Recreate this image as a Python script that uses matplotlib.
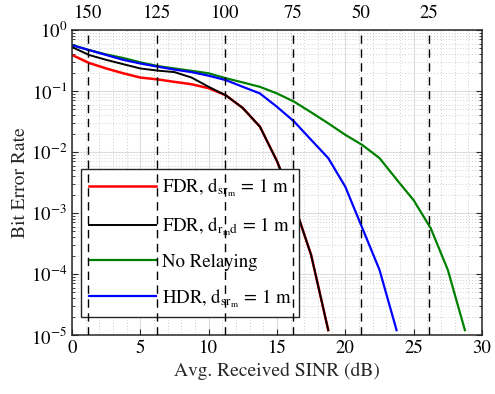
import matplotlib
matplotlib.use("Agg")
import matplotlib.pyplot as plt
from matplotlib.ticker import LogLocator, MultipleLocator, NullFormatter, LogFormatterMathtext

plt.rcParams['font.family'] = ['STIXGeneral', 'DejaVu Serif']
plt.rcParams['mathtext.fontset'] = 'stix'

# ---- data ----
snr = [0, 1.25, 2.5, 3.75, 5, 6.25, 7.5, 8.75, 10, 11.25, 12.5, 13.75, 15, 16.25,
       17.5, 18.75, 20, 21.25, 22.5, 23.75, 25, 26.25, 27.5, 28.75]

ber_fdr_sr = [0.389, 0.288, 0.234, 0.195, 0.166, 0.155, 0.141, 0.129, 0.111, 0.0851,
              0.0525, 0.026, 0.00708, 0.00141, 0.000204, 1.2e-5]
ber_fdr_rd = [0.525, 0.389, 0.324, 0.275, 0.234, 0.216, 0.204, 0.166, 0.117, 0.0851,
              0.0525, 0.026, 0.00708, 0.00141, 0.000204, 1.2e-5]
ber_norelay = [0.568, 0.468, 0.398, 0.347, 0.295, 0.257, 0.234, 0.214, 0.195, 0.162,
               0.138, 0.117, 0.0912, 0.0668, 0.0447, 0.0295, 0.0191, 0.0130, 0.00794,
               0.00355, 0.00162, 0.000562, 0.000117, 1.2e-5]
ber_hdr_sr = [0.562, 0.468, 0.389, 0.324, 0.282, 0.251, 0.224, 0.204, 0.178, 0.151,
              0.117, 0.0912, 0.055, 0.0316, 0.0158, 0.00794, 0.00269, 0.000562,
              0.000117, 1.2e-5]

labels = [r'FDR, d$_{\mathrm{sr}_{\mathrm{m}}}$ = 1 m',
          r'FDR, d$_{\mathrm{r}_{\mathrm{m}}\mathrm{d}}$ = 1 m',
          'No Relaying',
          r'HDR, d$_{\mathrm{sr}_{\mathrm{m}}}$ = 1 m']

dist_pos = [1.2, 6.2, 11.2, 16.2, 21.15, 26.15]
dist_labels = ['150', '125', '100', '75', '50', '25']

# ---- figure ----
fig = plt.figure(figsize=(4.95, 3.94), dpi=100)
ax = fig.add_axes([0.1455, 0.1497, 0.8282, 0.7742])

ax.plot(snr[:len(ber_fdr_sr)], ber_fdr_sr, color='#ff0000', lw=1.8, label=labels[0])
ax.plot(snr[:len(ber_fdr_rd)], ber_fdr_rd, color='black', lw=1.4, label=labels[1])
ax.plot(snr[:len(ber_norelay)], ber_norelay, color='#008000', lw=1.6, label=labels[2])
ax.plot(snr[:len(ber_hdr_sr)], ber_hdr_sr, color='#0000ff', lw=1.6, label=labels[3])

ax.set_yscale('log')
ax.set_xlim(0, 30)
ax.set_ylim(1e-5, 1)
ax.xaxis.set_major_locator(MultipleLocator(5))
ax.xaxis.set_minor_locator(MultipleLocator(1))
ax.yaxis.set_major_locator(LogLocator(base=10, numticks=10))
ax.yaxis.set_minor_locator(LogLocator(base=10, subs=range(2, 10), numticks=20))
ax.yaxis.set_minor_formatter(NullFormatter())
ax.yaxis.set_major_formatter(LogFormatterMathtext())

ax.grid(True, which='major', color='#dcdcdc', lw=0.8, ls='-')
ax.grid(True, which='minor', color='#c0c0c0', lw=0.6, ls=(0, (1, 2.5)))
ax.set_axisbelow(True)

ax.tick_params(which='major', direction='in', top=True, right=True, length=4,
               labelsize=13.5, color='#262626', width=0.8)
ax.tick_params(axis='y', which='minor', direction='in', left=True, right=True,
               length=2, color='#262626', width=0.6)
ax.tick_params(axis='x', which='minor', length=0)
for s in ax.spines.values():
    s.set_color('#262626')
    s.set_linewidth(1.1)

ax.set_xlabel('Avg. Received SINR (dB)', fontsize=14, color='#262626', labelpad=4)
ax.set_ylabel('Bit Error Rate', fontsize=14, color='#262626', labelpad=1)

leg = ax.legend(loc='lower left', bbox_to_anchor=(0.022, 0.059), borderaxespad=0,
                fontsize=13.5, handlelength=3.6, handletextpad=0.3,
                labelspacing=0.85, fancybox=False, framealpha=1,
                edgecolor='#262626', borderpad=0.4)
leg.get_frame().set_linewidth(1.0)

# secondary top axis with distance marks
ax2 = ax.twiny()
ax2.set_xlim(0, 30)
for p in dist_pos:
    ax2.axvline(p, color='black', lw=1.0, ls=(0, (6, 4)))
ax2.set_xticks(dist_pos)
ax2.set_xticklabels(dist_labels)
ax2.tick_params(axis='x', length=0, pad=6, labelsize=13.5)
for s in ax2.spines.values():
    s.set_visible(False)

fig.savefig('out.png', dpi=100)
